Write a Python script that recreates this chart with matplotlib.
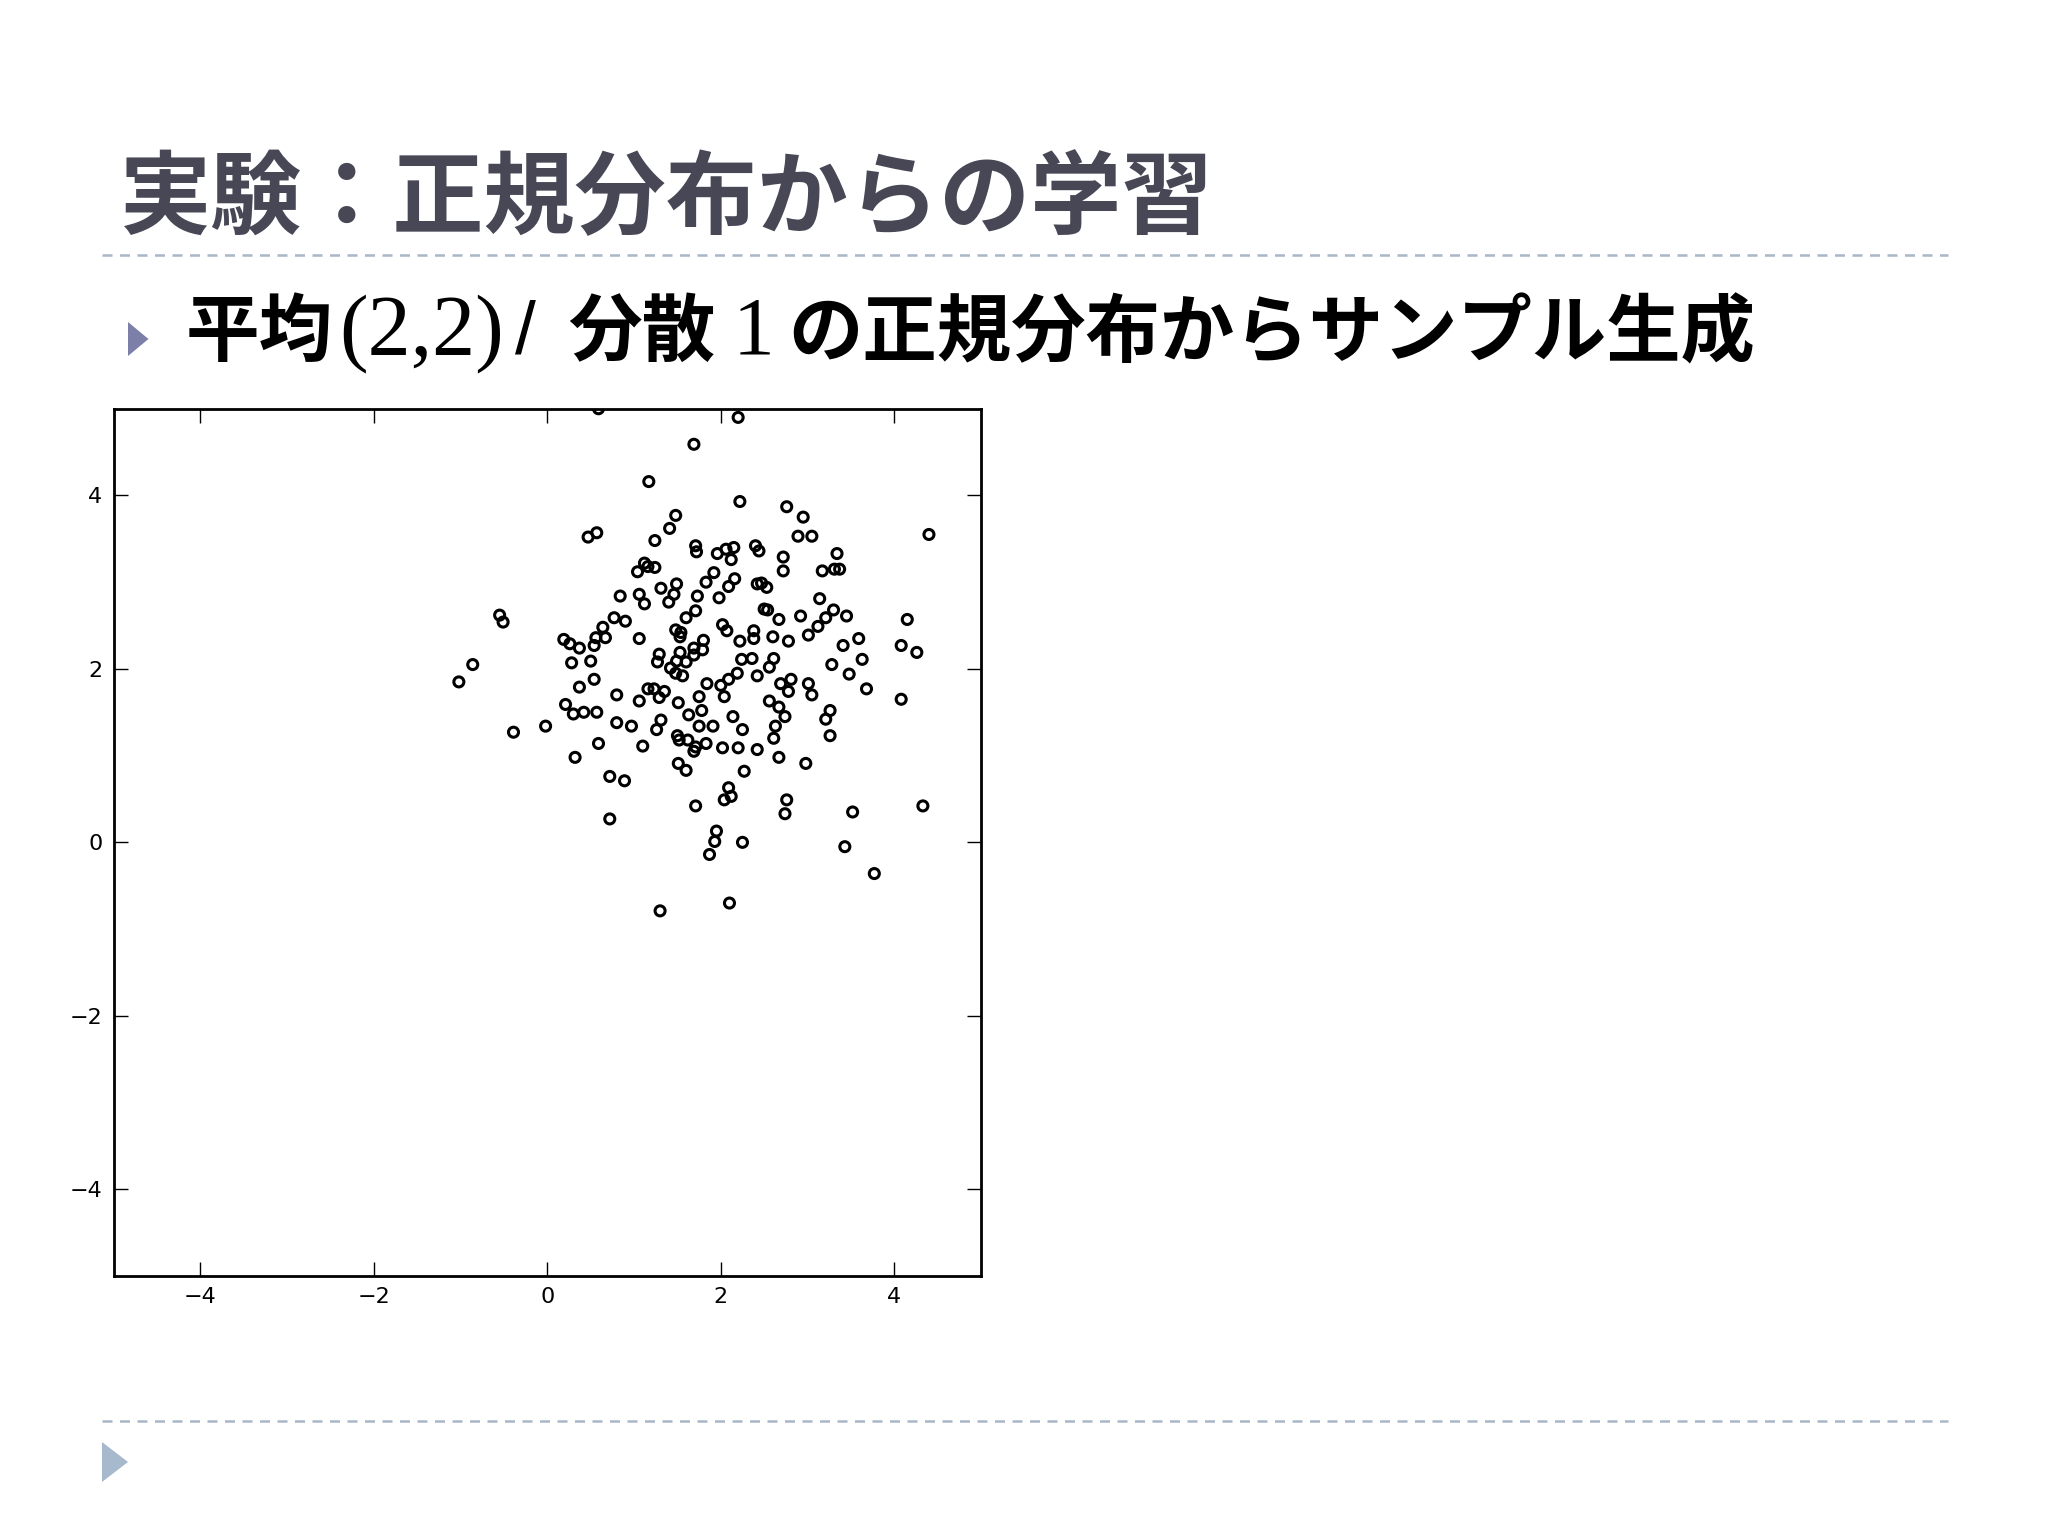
import matplotlib
matplotlib.use("Agg")
import matplotlib.pyplot as plt
from matplotlib.lines import Line2D
from matplotlib.patches import Polygon

OUTPUT_PATH = "out.png"

# sample points (mean (2,2), variance 1)
xs = [0.59, 1.69, 2.20, 1.17, 1.48, 1.41, 0.47, 0.57, 1.24, 2.22,
      2.76, 2.95, 4.40, 2.89, 3.05, 1.71, 1.72, 1.96, 2.06, 2.15,
      2.12, 2.40, 2.44, 2.72, 2.72, 3.34, 3.17, 3.31, 3.37, 1.04,
      1.12, 1.16, 1.24, 1.92, 1.83, 2.16, 2.09, 2.42, 2.47, 2.53,
      1.49, 1.46, 1.40, 1.31, 1.06, 1.12, 0.84, 1.73, 1.98, 3.14,
      1.71, 1.60, 2.50, 2.54, 2.67, 2.92, 3.30, 3.21, 3.12, 3.01,
      3.45, 4.15, 0.90, 0.77, 2.02, 2.07, 1.48, 1.54, 1.53, 2.38,
      2.38, 2.22, 2.60, 2.78, 3.59, 3.41, 4.08, 4.26, 1.06, 1.80,
      1.69, 1.79, 1.29, 1.53, 1.69, 1.27, 1.60, 1.49, 1.42, 1.48,
      1.56, 2.24, 2.36, 2.61, 2.56, 3.28, 3.63, 3.48, 3.68, 4.08,
      -0.55, -0.51, 0.19, 0.26, 0.37, 0.64, 0.56, 0.67, 0.54, -0.86,
      -1.02, 0.28, 0.50, 0.37, 0.54, 0.80, 0.21, 0.30, 0.42, 0.57,
      0.80, -0.39, -0.02, 0.59, 0.32, 0.72, 0.89, 0.72, 1.30, 0.97,
      1.10, 2.19, 2.09, 2.00, 1.84, 2.04, 2.42, 1.75, 1.16, 1.23,
      1.35, 1.29, 1.06, 1.51, 1.63, 1.78, 2.14, 1.31, 1.26, 1.75,
      1.91, 2.25, 1.50, 1.52, 1.62, 1.71, 1.69, 1.83, 2.02, 2.20,
      2.42, 1.51, 1.60, 2.27, 2.09, 2.69, 2.81, 2.78, 3.01, 3.05,
      2.56, 2.67, 2.74, 3.26, 3.21, 2.63, 2.61, 3.26, 2.67, 2.98,
      2.04, 2.12, 1.71, 2.76, 2.74, 3.52, 4.33, 1.95, 1.93, 1.87,
      2.25, 3.43, 3.77, 2.10]
ys = [5.00, 4.59, 4.90, 4.16, 3.77, 3.62, 3.52, 3.57, 3.48, 3.93,
      3.87, 3.75, 3.55, 3.53, 3.53, 3.42, 3.35, 3.33, 3.38, 3.40,
      3.26, 3.42, 3.36, 3.29, 3.13, 3.33, 3.13, 3.15, 3.15, 3.12,
      3.22, 3.18, 3.17, 3.11, 3.00, 3.04, 2.95, 2.98, 2.99, 2.94,
      2.98, 2.86, 2.77, 2.93, 2.86, 2.75, 2.84, 2.84, 2.82, 2.81,
      2.67, 2.59, 2.69, 2.68, 2.57, 2.61, 2.68, 2.59, 2.49, 2.39,
      2.61, 2.57, 2.55, 2.59, 2.51, 2.44, 2.45, 2.42, 2.37, 2.44,
      2.35, 2.32, 2.37, 2.32, 2.35, 2.27, 2.27, 2.19, 2.35, 2.33,
      2.24, 2.22, 2.17, 2.19, 2.16, 2.08, 2.08, 2.09, 2.01, 1.95,
      1.92, 2.11, 2.12, 2.12, 2.02, 2.05, 2.11, 1.94, 1.77, 1.65,
      2.62, 2.54, 2.34, 2.29, 2.24, 2.48, 2.36, 2.36, 2.27, 2.05,
      1.85, 2.07, 2.09, 1.79, 1.88, 1.70, 1.59, 1.48, 1.50, 1.50,
      1.38, 1.27, 1.34, 1.14, 0.98, 0.76, 0.71, 0.27, -0.79, 1.34,
      1.11, 1.95, 1.88, 1.81, 1.83, 1.68, 1.92, 1.68, 1.77, 1.77,
      1.74, 1.67, 1.63, 1.61, 1.47, 1.52, 1.45, 1.41, 1.30, 1.34,
      1.34, 1.30, 1.23, 1.18, 1.18, 1.10, 1.05, 1.14, 1.09, 1.09,
      1.07, 0.91, 0.83, 0.82, 0.63, 1.83, 1.88, 1.74, 1.83, 1.70,
      1.63, 1.56, 1.45, 1.52, 1.42, 1.34, 1.20, 1.23, 0.98, 0.91,
      0.49, 0.53, 0.42, 0.49, 0.33, 0.35, 0.42, 0.13, 0.01, -0.14,
      0.00, -0.05, -0.36, -0.70]

ticks = [-4, -2, 0, 2, 4]
title = "実験：正規分布からの学習"
# subtitle pieces: (text, font, size, weight, left x in figure fraction)
subtitle = [
    ("平均", "Noto Sans CJK JP", 26.5, "bold", 0.0905),
    ("(2,2)", "Liberation Serif", 31, "normal", 0.1655),
    ("/", "Liberation Sans", 27, "normal", 0.2515),
    ("分散", "Noto Sans CJK JP", 26.5, "bold", 0.2775),
    ("1", "Liberation Serif", 30, "normal", 0.3575),
    ("の正規分布からサンプル生成", "Noto Sans CJK JP", 26.8, "bold", 0.3850),
]

fig = plt.figure(figsize=(10.24, 7.68), dpi=200)
fig.patch.set_facecolor("white")

# slide title
fig.text(0.0585, 0.8695, title, fontsize=32.8, fontweight="bold",
         family=["Noto Sans CJK JP", "DejaVu Sans"], color="#474756",
         va="center", ha="left")

# dashed separators
for yy in [1 - 255 / 1536, 1 - 1421 / 1536]:
    fig.add_artist(Line2D([0.05, 0.951], [yy, yy], transform=fig.transFigure,
                          color="#a9b7c6", lw=0.9, ls=(0, (4, 3))))

# bullet triangles
fig.add_artist(Polygon([[0.0625, 1 - 322 / 1536], [0.0625, 1 - 356 / 1536],
                        [0.0725, 1 - 339 / 1536]], closed=True,
                       transform=fig.transFigure, color="#7c80a9", lw=0))
fig.add_artist(Polygon([[0.0498, 1 - 1442 / 1536], [0.0498, 1 - 1482 / 1536],
                        [0.0625, 1 - 1462 / 1536]], closed=True,
                       transform=fig.transFigure, color="#a6b9cd", lw=0))

for txt, fam, size, weight, x0 in subtitle:
    fig.text(x0, 0.7825, txt, fontsize=size, fontweight=weight,
             family=[fam, "DejaVu Sans"], color="black", va="center", ha="left")

# scatter plot
ax = fig.add_axes([0.0555, 0.1693, 0.4235, 0.5646])
ax.scatter(xs, ys, s=13, facecolors="none", edgecolors="black", linewidths=1.1)
ax.set_xlim(-5, 5)
ax.set_ylim(-5, 5)
ax.set_xticks(ticks)
ax.set_yticks(ticks)
ax.tick_params(direction="in", top=True, right=True, length=5, width=0.5,
               labelsize=8, pad=4)
for sp in ax.spines.values():
    sp.set_linewidth(1.0)

plt.savefig(OUTPUT_PATH, dpi=200)
